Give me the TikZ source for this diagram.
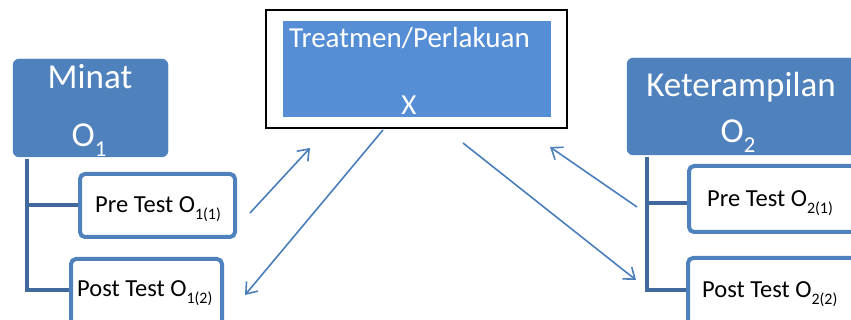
\documentclass[tikz,border=0pt]{standalone}
\usepackage{fontspec}
\setmainfont{Carlito}
\usetikzlibrary{arrows.meta}
\definecolor{hdr}{HTML}{4F81BD}
\definecolor{inner}{HTML}{558ED5}
\definecolor{tree}{HTML}{41699C}
\definecolor{arr}{HTML}{4A7EBB}
\newcommand\lsub[1]{\raisebox{-0.28em}{\scalebox{0.65}{#1}}}
\tikzset{
  hdrbox/.style={draw=hdr, fill=hdr, rounded corners=6pt},
  childbox/.style={draw=hdr, fill=white, line width=4pt, rounded corners=5pt},
  treeline/.style={draw=tree, line width=4.5pt},
  flow/.style={draw=arr, line width=1.6pt, -{Straight Barb[length=10pt,width=15pt,line width=1.6pt]}},
  hdrtext/.style={text=white, font=\fontsize{35}{40}\selectfont, anchor=base, inner sep=0pt},
  childtext/.style={text=black, font=\fontsize{24.5}{28}\selectfont, anchor=base west, inner sep=0pt},
  ctext/.style={text=white, font=\fontsize{29}{34}\selectfont, inner sep=0pt},
}
\begin{document}
\begin{tikzpicture}[x=1pt,y=-1pt]
\useasboundingbox (0,0) rectangle (851,320);
\clip (0,0) rectangle (851,320);
% centre
\draw[black, line width=2pt] (266,10) rectangle (567,128);
\fill[inner] (283,21) rectangle (551,117);
\node[ctext, anchor=base west] (treat) at (289,48) {Treatmen/Perlakuan};
\node[ctext, anchor=base] (x) at (409,115) {X};
% left header
\draw[hdrbox] (13,59) rectangle (168,157);
\node[hdrtext] (minat) at (90,89) {Minat};
\node[hdrtext] (o1) at (89,147) {O\lsub{1}};
% right header
\draw[hdrbox] (627,58) rectangle (880,155);
\node[hdrtext] (ket) at (741,97) {Keterampilan};
\node[hdrtext] (o2) at (738,143) {O\lsub{2}};
% tree lines
\draw[treeline] (27,159) -- (27,290) -- (71,290);
\draw[treeline] (27,205) -- (80,205);
\draw[treeline] (647,157) -- (647,290) -- (688,290);
\draw[treeline] (647,203) -- (689,203);
% child boxes
\draw[childbox] (80,174) rectangle (235,237);
\node[childtext] (pre1) at (95,213) {Pre Test O\lsub{1(1)}};
\draw[childbox] (71,259) rectangle (222,340);
\node[childtext] (post1) at (77,297) {Post Test O\lsub{1(2)}};
\draw[childbox] (689,166) rectangle (880,232);
\node[childtext] (pre2) at (707,207) {Pre Test O\lsub{2(1)}};
\draw[childbox] (688,258) rectangle (880,340);
\node[childtext] (post2) at (702,298) {Post Test O\lsub{2(2)}};
% arrows
\coordinate (a1s) at (250,213); \coordinate (a1e) at (310,148);
\coordinate (a2s) at (383,130); \coordinate (a2e) at (245,295);
\coordinate (a3s) at (463,143); \coordinate (a3e) at (636,280);
\coordinate (a4s) at (637,207); \coordinate (a4e) at (550,147);
\draw[flow] (a1s) -- (a1e);
\draw[flow] (a2s) -- (a2e);
\draw[flow] (a3s) -- (a3e);
\draw[flow] (a4s) -- (a4e);
\end{tikzpicture}
\end{document}
